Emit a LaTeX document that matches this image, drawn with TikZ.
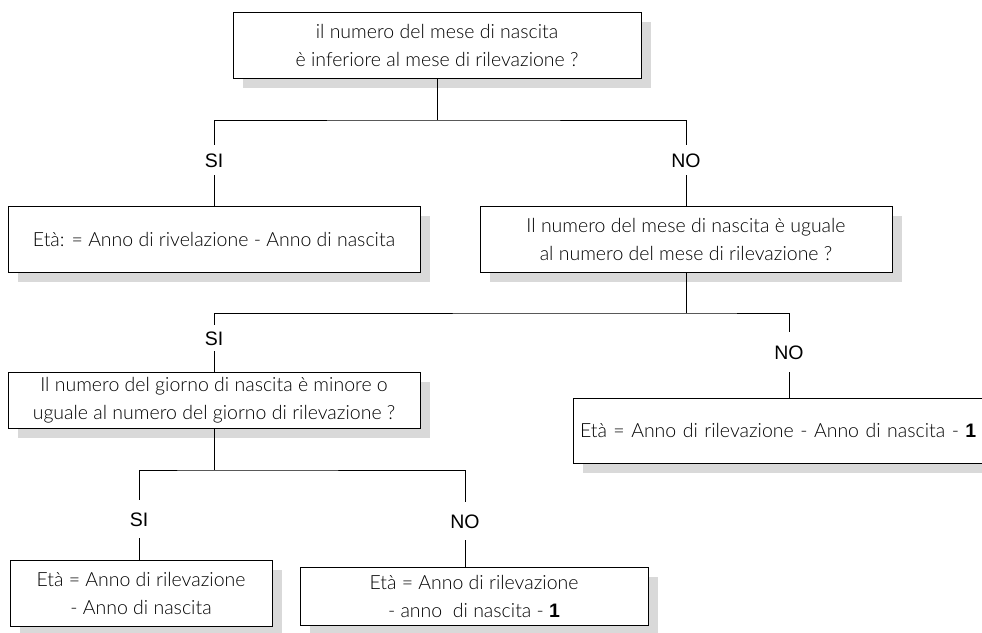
\documentclass[tikz,border=0pt]{standalone}
\usepackage{fontspec}
\setmainfont{Lato Light}
\newfontfamily\arialf{Liberation Sans}
\usetikzlibrary{shadows}
\begin{document}
\begin{tikzpicture}[x=1pt,y=-1pt,
  box/.style={draw=black, line width=1pt, fill=white, rectangle, inner sep=0pt,
    drop shadow={shadow xshift=10pt, shadow yshift=-10pt, fill=black!15, opacity=1},
    align=center, font=\fontsize{19.5}{28}\selectfont},
  lab/.style={font=\arialf\fontsize{19.5}{22}\selectfont, inner sep=0pt,
    text height=14pt, text depth=0pt, minimum height=30pt},
  conn/.style={line width=1pt}]
\useasboundingbox (0,0) rectangle (982,632);

% boxes
\node[box, minimum width=408pt, minimum height=66pt] (q1) at (437,45)
  {il numero del mese di nascita\\è inferiore al mese di rilevazione ?};
\node[box, minimum width=412pt, minimum height=66pt] (r1) at (214,239)
  {Età: = Anno di rivelazione - Anno di nascita};
\node[box, minimum width=412pt, minimum height=66pt] (q2) at (686,239)
  {Il numero del mese di nascita è uguale\\al numero del mese di rilevazione ?};
\node[box, minimum width=412pt, minimum height=56pt] (q3) at (214,400)
  {Il numero del giorno di nascita è minore o\\uguale al numero del giorno di rilevazione ?};
\node[box, text width=420pt, align=left, inner xsep=7pt, minimum height=65pt] (r2) at (790,430.5)
  {Età = Anno di rilevazione - Anno di nascita - {\arialf\bfseries 1}};
\node[box, minimum width=262pt, minimum height=66pt] (r3) at (141,593)
  {Età = Anno di rilevazione\\- Anno di nascita};
\node[box, minimum width=348pt, minimum height=58pt] (r4) at (474,596)
  {Età = Anno di rilevazione\\- anno\ \ di nascita - {\arialf\bfseries 1}};

% labels
\node[lab] (si1) at (214,160) {SI};
\node[lab] (no1) at (686,160) {NO};
\node[lab, minimum height=26pt] (si2) at (214,338) {SI};
\node[lab, minimum height=40pt] (no2) at (789,352) {NO};
\node[lab, minimum height=38pt] (si3) at (139,519) {SI};
\node[lab, minimum height=38pt] (no3) at (465,521) {NO};

% junctions
\coordinate (j1) at (437,120);
\coordinate (j2) at (686,313);
\coordinate (j3) at (214,470);

% connectors
\draw[conn] (q1.south) -- (j1);
\draw[conn] (si1.north) |- (j1) -| (no1.north);
\draw[conn] (si1.south) -- (r1.north);
\draw[conn] (no1.south) -- (q2.north);

\draw[conn] (q2.south) -- (j2);
\draw[conn] (si2.north) |- (j2) -| (no2.north);
\draw[conn] (si2.south) -- (q3.north);
\draw[conn] (no2.south) -- (no2.south |- r2.north);

\draw[conn] (q3.south) -- (j3);
\draw[conn] (si3.north) |- (j3) -| (no3.north);
\draw[conn] (si3.south) -- (si3.south |- r3.north);
\draw[conn] (no3.south) -- (no3.south |- r4.north);
\end{tikzpicture}
\end{document}
